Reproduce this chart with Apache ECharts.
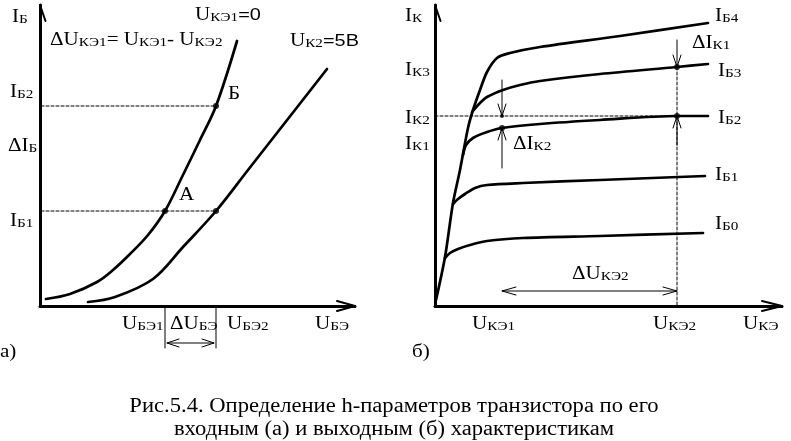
<!DOCTYPE html>
<html><head><meta charset="utf-8">
<script src="https://cdn.jsdelivr.net/npm/echarts@6/dist/echarts.min.js"></script>
<style>html,body{margin:0;padding:0;background:#fff}#c{width:791px;height:441px}</style>
</head><body><div id="c"></div><script>
// ===== (а) input characteristics: x = U_БЭ, y = I_Б (relative units)
const inCurveUKE0 = [[6,7],[30,12],[57,24],[73,36],[90,52],[108,71],[125,95],[142,129],[160,166],[176,200],[197,265]];
const inCurveUK5  = [[48,4],[75,9],[113,27],[143,59],[176,95],[208,136],[287,237]];
const IB1 = 95, IB2 = 200, UBE1 = 125, UBE2 = 176;
const inXMax = 315, inYMax = 301;
// ===== (б) output characteristics: x = U_КЭ, y = I_К (relative units)
const outIB4 = [[1,6],[10,49],[18,103],[25,136],[33,178],[38,196],[45,216],[52,234],[62,248],[75,253],[105,259],[185,270],[273,283]];
const outIB3 = [[37,194],[45,203],[52,209],[68,216],[85,221],[105,225],[165,232],[242,239],[273,242]];
const outIB2 = [[28,151],[31,161],[38,168],[52,174],[67,178],[105,182],[165,186],[242,190],[273,190]];
const outIB1 = [[18,102],[23,107],[30,112],[40,118],[52,121],[88,123],[165,126],[270,130]];
const outIB0 = [[10,48],[15,53],[23,57],[35,61],[52,65],[88,68],[165,70],[268,73]];
const UKE1 = 67, UKE2 = 242, IK1 = 178, IK2 = 190, IK3 = 239;
const outXMax = 347, outYMax = 301;
// ===== texts
const leftLabels = [
  ['{m|I}{s|Б}', 12, 17], ['{m|I}{s|Б2}', 10, 92], ['{m|ΔI}{s|Б}', 8, 146], ['{m|I}{s|Б1}', 10, 221],
  ['{m|Б}', 228, 94], ['{m|А}', 179, 195],
  ['{m|U}{s|КЭ1}{a|=0}', 195, 15], ['{m|ΔU}{s|КЭ1}{m|= U}{s|КЭ1}{m|- U}{s|КЭ2}', 50, 40], ['{m|U}{s|К2}{a|=5В}', 290, 41],
  ['{m|U}{s|БЭ1}', 122, 324], ['{m|ΔU}{s|БЭ}', 170, 324], ['{m|U}{s|БЭ2}', 227, 324], ['{m|U}{s|БЭ}', 315, 324],
  ['{m|а)}', 0, 352]
];
const rightLabels = [
  ['{m|I}{s|К}', 405, 16], ['{m|I}{s|Б4}', 715, 16], ['{m|ΔI}{s|К1}', 692, 43], ['{m|I}{s|К3}', 405, 70],
  ['{m|I}{s|Б3}', 718, 71], ['{m|I}{s|К2}', 405, 118], ['{m|I}{s|Б2}', 718, 118], ['{m|I}{s|К1}', 405, 144],
  ['{m|ΔI}{s|К2}', 513, 144], ['{m|I}{s|Б1}', 715, 175], ['{m|I}{s|Б0}', 715, 224], ['{m|ΔU}{s|КЭ2}', 572, 274],
  ['{m|U}{s|КЭ1}', 472, 324], ['{m|U}{s|КЭ2}', 653, 324], ['{m|U}{s|КЭ}', 743, 324], ['{m|б)}', 412, 352]
];
const captionLines = ['Рис.5.4. Определение h-параметров транзистора по его', 'входным (а) и выходным (б) характеристикам'];

const SERIF = 'Liberation Serif', SANS = 'Liberation Sans';
const SX = 1.17;
function head(tip, dir, len, half) {
  const bx = tip[0] - dir[0]*len, by = tip[1] - dir[1]*len;
  const px = -dir[1]*half, py = dir[0]*half;
  return [[bx+px, by+py], tip, [bx-px, by-py]];
}
function line(gi, data, o) {
  o = o || {};
  return {type:'line', xAxisIndex:gi, yAxisIndex:gi, data:data, symbol:'none', silent:true, clip:false,
    smooth:o.smooth || false, z:o.z || 3,
    lineStyle:{color:'#000', width:o.w || 1, type:o.type || 'solid', cap:'round', join:'round'}};
}
function dots(gi, data, size) {
  return {type:'scatter', xAxisIndex:gi, yAxisIndex:gi, data:data, symbol:'circle', symbolSize:size || 6,
    itemStyle:{color:'#000'}, silent:true, clip:false, z:5};
}
const DASH = [3,2];
const series = [];
// ---- left
series.push(line(0, inCurveUKE0, {w:2.7, smooth:0.35}));
series.push(line(0, inCurveUK5, {w:2.7, smooth:0.35}));
series.push(line(0, [[-14, IB2],[UBE2, IB2]], {type:DASH}));
series.push(line(0, [[-14, IB1],[UBE2, IB1]], {type:DASH}));
series.push(line(0, [[-14, IB2],[-14, IB2-19]]));
series.push(line(0, head([-14, IB2],[0,1],16,5)));
series.push(line(0, [[-14, IB1],[-14, IB1+49]]));
series.push(line(0, head([-14, IB1],[0,-1],16,5)));
series.push(line(0, [[UBE1,0],[UBE1,-42]]));
series.push(line(0, [[UBE2,0],[UBE2,-42]]));
series.push(line(0, [[UBE1+2,-37],[UBE2-2,-37]]));
series.push(line(0, head([UBE1+2,-37],[-1,0],12,4)));
series.push(line(0, head([UBE2-2,-37],[1,0],12,4)));
series.push(line(0, head([0, inYMax],[0,1],16,5.5), {w:2}));
series.push(line(0, head([inXMax, 0],[1,0],18,5), {w:2}));
series.push(dots(0, [[UBE1,IB1],[UBE2,IB1],[UBE2,IB2]], 6));
// ---- right
[outIB4, outIB3, outIB2, outIB1, outIB0].forEach(d => series.push(line(1, d, {w:2.7, smooth:0.3})));
series.push(line(1, [[0, IK2],[UKE2, IK2]], {type:DASH}));
series.push(line(1, [[UKE2, IK3],[UKE2, 0]], {type:DASH}));
series.push(line(1, [[UKE2, IK3],[UKE2, IK3+27]]));
series.push(line(1, head([UKE2, IK3],[0,-1],12,4)));
series.push(line(1, [[UKE2, IK2],[UKE2, IK2-29]]));
series.push(line(1, head([UKE2, IK2],[0,1],12,4)));
series.push(line(1, [[UKE1, IK2],[UKE1, IK2+36]]));
series.push(line(1, head([UKE1, IK2],[0,-1],12,4)));
series.push(line(1, [[UKE1, IK1],[UKE1, IK1-40]]));
series.push(line(1, head([UKE1, IK1],[0,1],12,4)));
series.push(line(1, [[UKE1, 15],[UKE2, 15]]));
series.push(line(1, head([UKE1, 15],[-1,0],14,4)));
series.push(line(1, head([UKE2, 15],[1,0],14,4)));
series.push(line(1, head([0, outYMax],[0,1],16,5.5), {w:2}));
series.push(line(1, head([outXMax, 0],[1,0],20,5), {w:2}));
series.push(dots(1, [[UKE2, IK3],[UKE2, IK2],[UKE1, IK1]], 6));
series.push(dots(1, [[UKE1, IK2]], 4));

const rich = {
  m:{fontFamily:SERIF, fontSize:18, lineHeight:20, fill:'#000'},
  s:{fontFamily:SERIF, fontSize:13, lineHeight:15, padding:[5,0,0,0], fill:'#000'},
  a:{fontFamily:SANS, fontSize:17, lineHeight:20, fill:'#000'}
};
const graphic = leftLabels.concat(rightLabels).map(l => ({
  type:'text', x:l[1], y:l[2], scaleX:SX, silent:true,
  style:{text:l[0], rich:rich, align:'left', verticalAlign:'middle', fill:'#000'}
}));
captionLines.forEach((t, i) => graphic.push({
  type:'text', x:394, y:407 + i*23, scaleX:1.13, silent:true,
  style:{text:t, fontFamily:SERIF, fontSize:20, fill:'#000', align:'center', verticalAlign:'middle'}
}));

function axis(gi, max) {
  return {type:'value', gridIndex:gi, min:0, max:max,
    axisLine:{show:true, onZero:false, lineStyle:{color:'#000', width:3}},
    axisTick:{show:false}, axisLabel:{show:false}, splitLine:{show:false}};
}
const chart = echarts.init(document.getElementById('c'), null, {renderer:'canvas'});
chart.setOption({
  animation:false,
  backgroundColor:'#fff',
  grid:[{left:40, top:5, width:inXMax, height:inYMax}, {left:435, top:5, width:outXMax, height:outYMax}],
  xAxis:[axis(0, inXMax), axis(1, outXMax)],
  yAxis:[axis(0, inYMax), axis(1, outYMax)],
  series:series,
  graphic:graphic
});
</script></body></html>
